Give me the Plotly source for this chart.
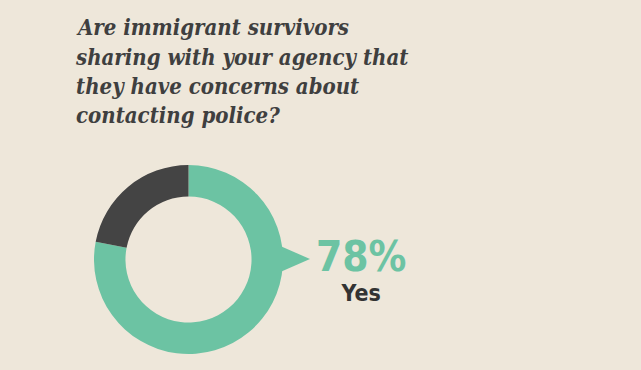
import plotly.graph_objects as go

W, H = 641, 370
labels = ["Yes", "No"]
values = [78, 22]
colors = ["#6CC3A3", "#444444"]
title_lines = [
    "Are immigrant survivors",
    "sharing with your agency that",
    "they have concerns about",
    "contacting police?",
]
highlight_label = "Yes"
highlight_value = "78%"

BG = "#EEE7DA"
DARK = "#3F3F3F"

# donut geometry (pixels)
cx, cy, r = 188.5, 259.5, 94.5

fig = go.Figure(go.Pie(
    labels=labels, values=values, hole=0.667, sort=False,
    direction="clockwise", rotation=0,
    marker=dict(colors=colors, line=dict(width=0)),
    textinfo="none", hoverinfo="label+percent", showlegend=False,
    domain=dict(x=[(cx - r) / W, (cx + r) / W], y=[1 - (cy + r) / H, 1 - (cy - r) / H]),
))

def px(x):
    return x / W

def py(y):
    return 1 - y / H

# pointer triangle
fig.add_shape(type="path", xref="paper", yref="paper",
              path=f"M {px(278)} {py(245)} L {px(310)} {py(259)} L {px(278)} {py(273)} Z",
              fillcolor=colors[0], line=dict(width=0), layer="above")

annotations = []
baselines = [35, 65, 94, 123]
for line, b in zip(title_lines, baselines):
    annotations.append(dict(
        text=line, xref="paper", yref="paper", x=px(74), y=py(b - 8),
        xanchor="left", yanchor="middle", showarrow=False,
        font=dict(family="DejaVu Serif Condensed, Liberation Serif", size=22, color=DARK,
                  weight="bold", style="italic"),
    ))

big = f'<span style="font-size:42px;color:{colors[0]}">{highlight_value}</span>'
annotations.append(dict(
    text=f"{big}<br>{highlight_label}", xref="paper", yref="paper", x=px(361), y=py(269),
    xanchor="center", yanchor="middle", align="center", showarrow=False,
    font=dict(family="DejaVu Sans Condensed, Roboto", size=23, color="#333333", weight="bold"),
))

fig.update_layout(
    width=W, height=H, margin=dict(l=0, r=0, t=0, b=0),
    paper_bgcolor=BG, plot_bgcolor=BG,
    annotations=annotations,
)

fig.write_html("out.html", config={"displayModeBar": False},
               post_script="document.body.style.margin='0';")
